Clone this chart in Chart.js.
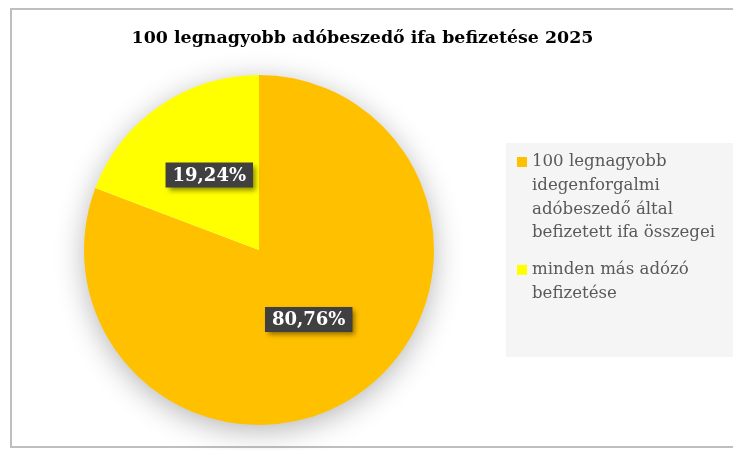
<!DOCTYPE html>
<html><head><meta charset="utf-8">
<script src="https://cdn.jsdelivr.net/npm/chart.js@4/dist/chart.umd.min.js"></script>
<style>
html,body{margin:0;padding:0;background:#fff;}
#wrap{position:relative;width:733px;height:450px;overflow:hidden;}
#frame{position:absolute;left:10px;top:8px;width:740px;height:440px;border:2px solid #bfbfbf;box-sizing:border-box;}
canvas{position:absolute;left:0;top:0;}
</style></head>
<body><div id="wrap"><div id="frame"></div><canvas id="c" width="733" height="450"></canvas></div>
<script>
const chartTitle = '100 legnagyobb adóbeszedő ifa befizetése 2025';
const categories = [
  ['100 legnagyobb', 'idegenforgalmi', 'adóbeszedő által', 'befizetett ifa összegei'],
  ['minden más adózó', 'befizetése']
];
const values = [80.76, 19.24];
const colors = ['#FFC000', '#FFFF00'];

const SERIF = "'DejaVu Serif', 'Liberation Serif', serif";

const shadowPlugin = {
  id: 'pieShadow',
  beforeDatasetsDraw(chart) {
    const a = chart.getDatasetMeta(0).data[0];
    if (!a) return;
    const ctx = chart.ctx;
    ctx.save();
    ctx.shadowColor = 'rgba(0,0,0,0.30)';
    ctx.shadowBlur = 30;
    ctx.shadowOffsetY = 6;
    ctx.fillStyle = '#ffffff';
    ctx.beginPath();
    ctx.arc(a.x, a.y, a.outerRadius - 1, 0, Math.PI * 2);
    ctx.fill();
    ctx.restore();
  }
};

const labelPlugin = {
  id: 'valueLabels',
  afterDatasetsDraw(chart) {
    const ctx = chart.ctx;
    const meta = chart.getDatasetMeta(0);
    ctx.save();
    ctx.font = 'bold 18px ' + SERIF;
    ctx.textAlign = 'center';
    ctx.textBaseline = 'middle';
    meta.data.forEach((arc, i) => {
      const p = arc.tooltipPosition();
      const txt = values[i].toFixed(2).replace('.', ',') + '%';
      const w = ctx.measureText(txt).width + 14;
      const h = 25;
      const x = p.x - w / 2;
      const y = p.y - h / 2 + (i === 0 ? -2.5 : -3);
      ctx.save();
      ctx.shadowColor = 'rgba(0,0,0,0.45)';
      ctx.shadowBlur = 5;
      ctx.shadowOffsetX = 3;
      ctx.shadowOffsetY = 3;
      ctx.fillStyle = '#404040';
      ctx.fillRect(x, y, w, h);
      ctx.restore();
      ctx.fillStyle = '#ffffff';
      ctx.fillText(txt, x + w / 2, y + h / 2 + 1);
    });
    ctx.restore();
  },
  afterDraw(chart) {
    const ctx = chart.ctx;
    ctx.save();
    // title
    ctx.font = 'bold 17.4px ' + SERIF;
    ctx.fillStyle = '#000000';
    ctx.textAlign = 'center';
    ctx.textBaseline = 'middle';
    ctx.fillText(chartTitle, 362.5, 38);
    // legend
    ctx.fillStyle = '#f5f5f5';
    ctx.fillRect(506, 143, 240, 214);
    ctx.font = '16.6px ' + SERIF;
    ctx.textAlign = 'left';
    ctx.textBaseline = 'middle';
    let y = 162;
    chart.data.labels.forEach((lines, i) => {
      ctx.fillStyle = colors[i];
      ctx.fillRect(517, y - 5, 10, 10);
      ctx.fillStyle = '#595959';
      lines.forEach((ln, j) => {
        ctx.fillText(ln, 532, y + j * 23.7);
      });
      y += lines.length * 23.7 + 13;
    });
    ctx.restore();
  }
};

new Chart(document.getElementById('c'), {
  type: 'pie',
  data: {
    labels: categories,
    datasets: [{
      data: values,
      backgroundColor: colors,
      borderWidth: 0
    }]
  },
  options: {
    responsive: false,
    animation: false,
    devicePixelRatio: 1,
    layout: { padding: { left: 84, right: 299, top: 75, bottom: 25 } },
    plugins: {
      legend: { display: false },
      tooltip: { enabled: false },
      title: { display: false }
    }
  },
  plugins: [shadowPlugin, labelPlugin]
});
</script>
</body></html>
